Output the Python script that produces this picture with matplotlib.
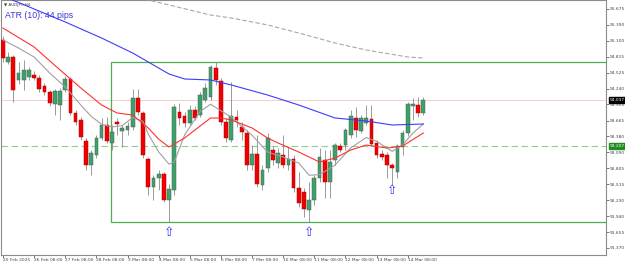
import matplotlib
matplotlib.use('Agg')
import matplotlib.pyplot as plt
import matplotlib.transforms as mtransforms
from matplotlib.patches import Rectangle

# AUDJPY H4 candles (bar 0 = 25 Feb 2025)
opens = [95.116, 94.720, 94.810, 94.396, 94.396, 94.450, 94.486, 94.432, 94.288, 94.179,
         93.963, 93.945, 94.215, 94.414, 93.801, 93.675, 93.297, 92.864, 93.044, 93.351,
         93.585, 93.261, 93.639, 93.477, 93.495, 93.549, 94.071, 93.801, 92.972, 92.468,
         92.630, 92.702, 92.233, 92.414, 93.819, 93.747, 93.621, 93.855, 93.765, 94.035,
         94.089, 94.612, 94.378, 93.639, 93.315, 93.729, 93.549, 93.441, 92.864, 93.062,
         92.504, 92.810, 93.134, 92.900, 93.044, 92.864, 92.972, 92.450, 92.378, 92.053,
         92.233, 92.630, 92.954, 92.558, 92.954, 93.206, 93.224, 93.405, 93.711, 93.477,
         93.621, 93.693, 93.261, 93.062, 93.044, 92.864, 92.738, 93.188, 93.441, 93.927,
         93.945, 93.801]
highs = [95.188, 94.900, 94.846, 94.720, 94.756, 94.630, 94.558, 94.486, 94.342, 94.215,
         94.233, 94.252, 94.468, 94.450, 93.855, 93.729, 93.351, 93.134, 93.405, 93.711,
         93.729, 93.585, 93.711, 93.585, 93.639, 94.233, 94.233, 93.837, 93.008, 92.684,
         92.774, 92.738, 92.522, 93.963, 93.981, 93.819, 93.945, 93.927, 94.179, 94.342,
         94.666, 94.720, 94.432, 93.711, 94.360, 93.855, 93.639, 93.495, 93.224, 93.405,
         92.864, 93.441, 93.206, 93.170, 93.405, 93.188, 93.044, 92.738, 92.450, 92.558,
         92.684, 93.170, 93.134, 93.134, 93.261, 93.261, 93.531, 93.855, 93.909, 93.765,
         93.945, 93.945, 93.315, 93.134, 93.098, 92.900, 93.243, 93.495, 93.999, 94.071,
         94.089, 94.089]
lows = [94.720, 94.684, 93.999, 94.324, 94.215, 94.396, 94.396, 94.179, 94.125, 93.927,
        93.765, 93.675, 94.179, 93.765, 93.585, 93.315, 92.774, 92.684, 92.990, 93.315,
        93.261, 93.134, 93.405, 93.188, 93.405, 93.495, 93.765, 92.990, 92.324, 92.233,
        92.414, 92.197, 91.837, 92.324, 93.585, 93.549, 93.585, 93.675, 93.729, 93.999,
        94.035, 94.306, 93.585, 93.279, 93.279, 93.549, 93.315, 92.774, 92.774, 92.468,
        92.414, 92.738, 92.864, 92.810, 92.810, 92.774, 92.378, 92.107, 91.927, 91.837,
        92.143, 92.558, 92.270, 92.270, 92.864, 93.098, 93.134, 93.351, 93.369, 93.441,
        93.585, 93.206, 92.990, 92.954, 92.630, 92.504, 92.630, 93.044, 93.387, 93.675,
        93.729, 93.765]
closes = [94.792, 94.810, 94.215, 94.522, 94.576, 94.576, 94.432, 94.233, 94.179, 93.981,
          94.197, 94.197, 94.414, 93.801, 93.639, 93.369, 92.864, 93.080, 93.351, 93.585,
          93.297, 93.459, 93.603, 93.531, 93.567, 94.071, 93.819, 93.044, 92.468, 92.630,
          92.702, 92.233, 92.432, 93.909, 93.711, 93.621, 93.855, 93.711, 94.125, 94.252,
          94.630, 94.396, 93.639, 93.351, 93.747, 93.675, 93.459, 92.864, 93.062, 92.522,
          92.774, 93.351, 92.954, 93.080, 92.864, 92.972, 92.450, 92.179, 92.071, 92.233,
          92.630, 93.008, 92.558, 92.918, 93.224, 93.134, 93.495, 93.747, 93.495, 93.711,
          93.711, 93.243, 93.044, 93.008, 92.864, 92.810, 93.206, 93.441, 93.963, 93.963,
          93.801, 94.035]

# moving averages, read at selected bars
fast_bars = [0, 3, 6, 9, 12, 15, 17, 19, 21, 23, 25, 27, 28, 30, 32, 33, 35, 38, 40, 42,
             44, 46, 48, 51, 54, 57, 59, 61, 64, 67, 70, 72, 75, 77, 79, 81]
fast_ma = [95.116, 94.972, 94.810, 94.522, 94.270, 93.945, 93.740, 93.600, 93.549, 93.575,
           93.720, 93.650, 93.420, 93.100, 92.880, 92.918, 93.405, 93.830, 93.960, 93.840,
           93.729, 93.560, 93.400, 93.098, 93.008, 92.900, 92.680, 92.690, 92.864, 93.170,
           93.360, 93.290, 93.110, 93.224, 93.441, 93.603]
mid_bars = [0, 6, 11, 15, 19, 22, 25, 28, 30, 32, 35, 38, 40, 42, 44, 48, 51, 53, 57, 61,
            64, 67, 70, 74, 77, 81]
mid_ma = [95.332, 94.990, 94.576, 94.252, 93.945, 93.801, 93.765, 93.531, 93.330, 93.188,
          93.351, 93.567, 93.711, 93.711, 93.675, 93.531, 93.351, 93.261, 93.098, 92.918,
          92.990, 93.134, 93.224, 93.170, 93.206, 93.441]
slow_bars = [0, 12, 19, 25, 28, 32, 35, 40, 44, 51, 57, 64, 70, 75, 81]
slow_ma = [95.909, 95.441, 95.152, 94.882, 94.720, 94.504, 94.414, 94.396, 94.306, 94.125,
           93.945, 93.711, 93.657, 93.585, 93.603]
long_bars = [24, 28, 40, 44, 51, 57, 64, 70, 78, 81]
long_ma = [95.940, 95.837, 95.567, 95.513, 95.387, 95.242, 95.062, 94.936, 94.810, 94.792]

# range box and signal arrows
box_left = 20.8
box_top = 94.715
box_bottom = 91.837
arrow_bars = [32, 59, 75]
arrow_prices = [91.657, 91.640, 92.414]

bid_price = 94.037
level_price = 93.207

price_ticks = [95.675, 95.390, 95.100, 94.815, 94.525, 94.240, 93.955, 93.665, 93.380,
               93.090, 92.805, 92.515, 92.230, 91.940, 91.655, 91.370]
time_bars = [0, 6, 12, 18, 24, 30, 36, 42, 48, 54, 60, 66, 72, 78]
time_labels = ['25 Feb 2025', '26 Feb 08:00', '27 Feb 08:00', '28 Feb 08:00', '3 Mar 08:00',
               '4 Mar 08:00', '5 Mar 08:00', '6 Mar 08:00', '7 Mar 08:00', '10 Mar 08:00',
               '11 Mar 08:00', '12 Mar 08:00', '13 Mar 08:00', '14 Mar 08:00']


def main():
    fig = plt.figure(figsize=(6.25, 2.63), dpi=100)
    ax = fig.add_axes([1 / 625, 8 / 263, 605 / 625, 255 / 263])
    ax.set_xlim(-0.38, 116.2)
    ax.set_ylim(91.243, 95.837)

    # candles
    for i, (o, h, l, c) in enumerate(zip(opens, highs, lows, closes)):
        up = c >= o
        ax.vlines(i, l, h, color='#8a8a8a', lw=0.6, zorder=3)
        body = max(abs(c - o), 0.01)
        ax.add_patch(Rectangle((i - 0.36, min(o, c)), 0.72, body,
                               facecolor='#3aa36a' if up else '#f00000',
                               edgecolor='#5a5a5a' if up else '#b00000',
                               lw=0.35, zorder=4))

    ax.plot(fast_bars, fast_ma, color='#a0a0a0', lw=0.8, zorder=5)
    ax.plot(mid_bars, mid_ma, color='#ff3030', lw=0.8, zorder=5)
    ax.plot(slow_bars, slow_ma, color='#3c3cff', lw=0.8, zorder=5)
    ax.plot(long_bars, long_ma, color='#a8a8a8', lw=0.8, dashes=(4, 2), zorder=5)

    ax.axhline(bid_price, color='#f6cccc', lw=0.7, zorder=1)
    ax.axhline(level_price, color='#8fd08f', lw=0.8, dashes=(6, 3), zorder=1)

    ax.add_patch(Rectangle((box_left, box_bottom), 120 - box_left, box_top - box_bottom,
                           fill=False, edgecolor='#4caf50', lw=0.9, zorder=2))

    for b, p in zip(arrow_bars, arrow_prices):
        ax.text(b, p, '\u21e7', color='#3030ff', fontsize=9, ha='center', va='center',
                family='DejaVu Sans', zorder=6)

    ax.text(0.005, 0.988, '\u25bc AUDJPY,H4', transform=ax.transAxes, fontsize=3,
            color='#333333', va='top', ha='left')
    ax.text(0.006, 0.958, 'ATR (10): 44 pips', transform=ax.transAxes, fontsize=6.3,
            color='#3a3ad0', va='top', ha='left', family='Liberation Sans')

    # axes look
    for s in ax.spines.values():
        s.set_color('#8c8c8c')
        s.set_linewidth(0.8)
    ax.yaxis.tick_right()
    ax.set_yticks(price_ticks)
    ax.set_yticklabels(['%.3f' % v for v in price_ticks])
    ax.tick_params(axis='y', length=2, width=0.5, pad=1, labelsize=3.2,
                   colors='#444444')
    ax.set_xticks(time_bars)
    ax.set_xticklabels(time_labels)
    ax.tick_params(axis='x', length=2, width=0.5, pad=0.5, labelsize=3.2,
                   colors='#444444')
    for lbl in ax.get_xticklabels():
        lbl.set_ha('left')

    trans = mtransforms.blended_transform_factory(ax.transAxes, ax.transData)
    ax.text(1.006, bid_price, '%.3f' % bid_price, transform=trans, fontsize=3.2,
            color='white', va='center', ha='left',
            bbox=dict(boxstyle='square,pad=0.15', fc='black', ec='black'))
    ax.text(1.006, level_price, '%.3f' % level_price, transform=trans, fontsize=3.2,
            color='white', va='center', ha='left',
            bbox=dict(boxstyle='square,pad=0.15', fc='#1e8c1e', ec='#1e8c1e'))

    fig.savefig('out.png', dpi=100)


if __name__ == '__main__':
    main()
